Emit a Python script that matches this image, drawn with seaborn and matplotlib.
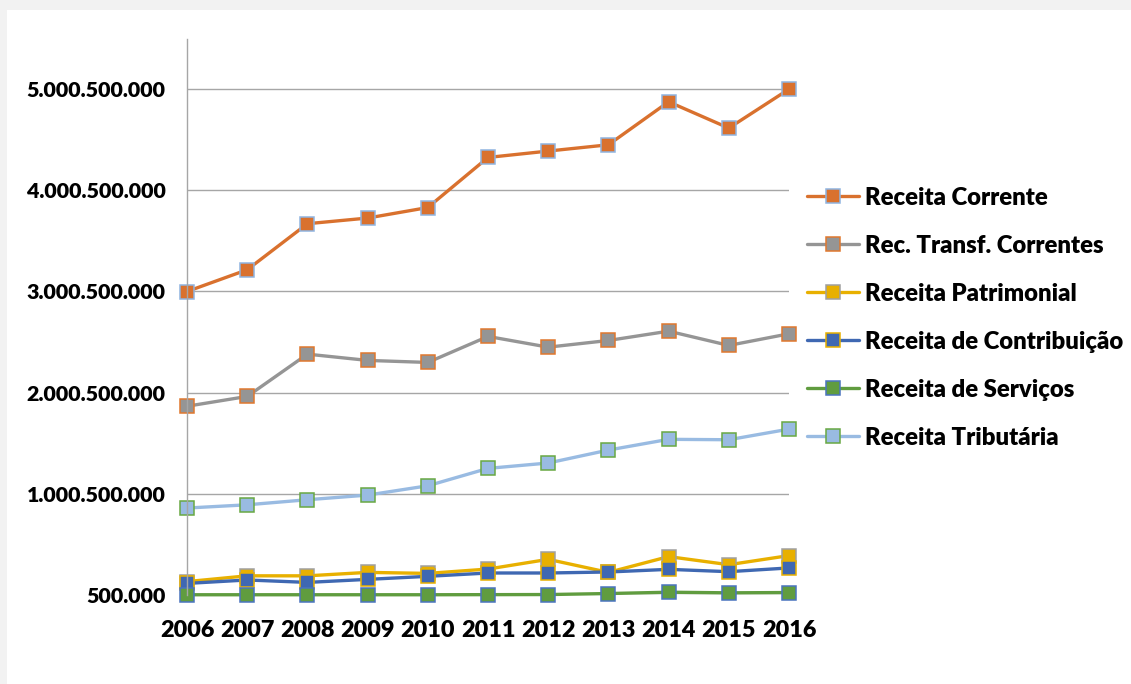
import matplotlib
matplotlib.use("Agg")
import matplotlib.pyplot as plt
import matplotlib.ticker as mticker
from matplotlib.patches import Rectangle
import seaborn as sns
import pandas as pd

anos = [2006, 2007, 2008, 2009, 2010, 2011, 2012, 2013, 2014, 2015, 2016]

receita_corrente = [3.000e9, 3.215e9, 3.670e9, 3.726e9, 3.830e9, 4.325e9,
                    4.388e9, 4.450e9, 4.875e9, 4.615e9, 5.000e9]
rec_transf_correntes = [1.866e9, 1.963e9, 2.381e9, 2.319e9, 2.299e9, 2.556e9,
                        2.450e9, 2.516e9, 2.608e9, 2.467e9, 2.582e9]
receita_patrimonial = [0.133e9, 0.190e9, 0.190e9, 0.224e9, 0.214e9, 0.257e9,
                       0.353e9, 0.224e9, 0.380e9, 0.300e9, 0.390e9]
receita_contribuicao = [0.115e9, 0.149e9, 0.125e9, 0.155e9, 0.185e9, 0.218e9,
                        0.218e9, 0.228e9, 0.254e9, 0.231e9, 0.268e9]
receita_servicos = [3e6, 3e6, 3e6, 3e6, 3e6, 4e6,
                    5e6, 15e6, 28e6, 22e6, 25e6]
receita_tributaria = [0.860e9, 0.892e9, 0.942e9, 0.988e9, 1.080e9, 1.252e9,
                      1.305e9, 1.433e9, 1.539e9, 1.535e9, 1.640e9]

series = {
    "Receita Corrente": receita_corrente,
    "Rec. Transf. Correntes": rec_transf_correntes,
    "Receita Patrimonial": receita_patrimonial,
    "Receita de Contribuição": receita_contribuicao,
    "Receita de Serviços": receita_servicos,
    "Receita Tributária": receita_tributaria,
}

# line colour, marker face, marker edge
estilos = {
    "Receita Corrente": ("#D9712E", "#D9712E", "#8FB4E0"),
    "Rec. Transf. Correntes": ("#959595", "#959595", "#E0782E"),
    "Receita Patrimonial": ("#E8B000", "#E8B000", "#A0A0A0"),
    "Receita de Contribuição": ("#3F68B2", "#3F68B2", "#E8B000"),
    "Receita de Serviços": ("#609C3F", "#609C3F", "#4A74BE"),
    "Receita Tributária": ("#99BBE2", "#99BBE2", "#68A843"),
}

df = pd.DataFrame([(a, nome, v) for nome, vals in series.items()
                   for a, v in zip(anos, vals)], columns=["Ano", "Serie", "Valor"])

sns.set_style("white")
plt.rcParams["font.family"] = ["Lato", "DejaVu Sans"]
plt.rcParams["text.color"] = "black"
peso = "heavy"

fig = plt.figure(figsize=(11.31, 6.84), dpi=100)
fig.patches.append(Rectangle((0, 0), 1, 1, transform=fig.transFigure,
                             facecolor="#F2F2F2", edgecolor="none", zorder=-10))
fig.patches.append(Rectangle((7 / 1131, 0), 1, 1 - 10 / 684, transform=fig.transFigure,
                             facecolor="white", edgecolor="none", zorder=-9))

ax = fig.add_axes([187 / 1131, 1 - 595 / 684, (789 - 187) / 1131, (595 - 38.5) / 684])
ax.set_facecolor("none")

for nome in series:
    cor, face, borda = estilos[nome]
    sns.lineplot(data=df[df["Serie"] == nome], x="Ano", y="Valor", ax=ax,
                 color=cor, linewidth=2.4, marker="s", markersize=10,
                 markerfacecolor=face, markeredgecolor=borda, markeredgewidth=1.1,
                 label=nome, clip_on=False)

ax.set_xlim(2006, 2016)
ax.set_ylim(0.5e6, 5.5005e9)
ax.set_xticks(anos)
ax.set_yticks([0.5e6 + k * 1e9 for k in range(6)])
ax.yaxis.set_major_formatter(mticker.FuncFormatter(lambda v, p: f"{int(round(v)):,}".replace(",", ".")))
ax.grid(axis="y", color="#A6A6A6", linewidth=1)
ax.grid(axis="x", visible=False)
for s in ["top", "right", "bottom"]:
    ax.spines[s].set_visible(False)
ax.spines["left"].set_color("#A6A6A6")
ax.spines["left"].set_linewidth(1)
ax.tick_params(axis="y", length=5, color="#A6A6A6", width=1, pad=10.5, labelsize=15.4,
               labelcolor="black")
ax.tick_params(axis="x", length=5, color="#A6A6A6", width=1, pad=13, labelsize=16.8,
               labelcolor="black", direction="out")
for t in ax.get_xticklabels() + ax.get_yticklabels():
    t.set_fontweight(peso)
ax.set_xlabel("")
ax.set_ylabel("")

leg = ax.legend(loc="upper left", bbox_to_anchor=(797 / 1131, 1 - 177 / 684),
                bbox_transform=fig.transFigure, frameon=False,
                prop={"weight": peso, "size": 17.2},
                handlelength=2.2, handletextpad=0.25, labelspacing=1.09, borderaxespad=0)
for t in leg.get_texts():
    t.set_color("black")

fig.savefig("out.png", dpi=100)
